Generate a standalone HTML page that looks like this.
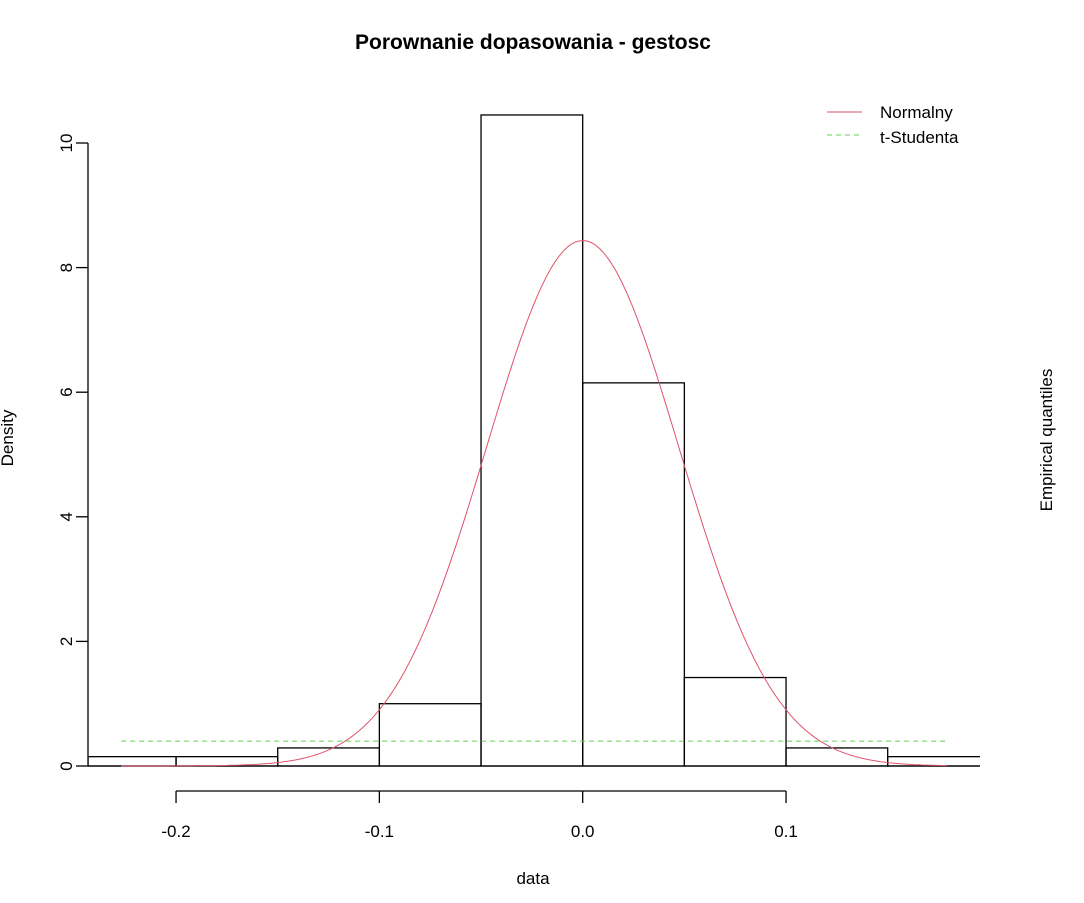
<!DOCTYPE html>
<html><head><meta charset="utf-8"><style>
body{margin:0;background:#fff}
svg text{font-family:"Liberation Sans",Arial,sans-serif;fill:#000}
</style></head><body>
<svg width="1084" height="898">
<defs><clipPath id="pc"><rect x="88" y="0" width="892" height="898"/></clipPath></defs>
<text x="533" y="49" font-size="21" font-weight="bold" text-anchor="middle">Porownanie dopasowania - gestosc</text>
<g id="bars" clip-path="url(#pc)"></g>
<line x1="88" y1="766" x2="980" y2="766" stroke="#000" stroke-width="1.3"/>
<g id="curves" clip-path="url(#pc)"></g>
<g id="axes"></g>
<text x="533" y="884" font-size="17" text-anchor="middle">data</text>
<text transform="translate(13,438) rotate(-90)" font-size="17" text-anchor="middle">Density</text>
<text transform="translate(1052,440) rotate(-90)" font-size="17" text-anchor="middle">Empirical quantiles</text>
<g>
<line x1="827" y1="112" x2="862" y2="112" stroke="#DF536B" stroke-width="1"/>
<text x="880" y="118" font-size="17">Normalny</text>
<line x1="827" y1="135" x2="862" y2="135" stroke="#61D04F" stroke-width="1" stroke-dasharray="5,4"/>
<text x="880" y="143" font-size="17">t-Studenta</text>
</g>
</svg>
<script>
const breaks=[-0.2433,-0.2,-0.15,-0.1,-0.05,0,0.05,0.1,0.15,0.2];
const densities=[0.15,0.15,0.29,1.0,10.45,6.15,1.42,0.29,0.15];
const xTicks=[-0.2,-0.1,0.0,0.1];
const xTickLabels=["-0.2","-0.1","0.0","0.1"];
const yTicks=[0,2,4,6,8,10];
const normMean=0.0;
const normSd=0.0473;
const tLevel=0.4;
const curveRange=[-0.227,0.179];
const X=v=>582.7+(v)*2033.3;
const Y=v=>766-v*62.3;
const NS="http://www.w3.org/2000/svg";
function mk(tag,attrs,parent){const e=document.createElementNS(NS,tag);for(const k in attrs)e.setAttribute(k,attrs[k]);parent.appendChild(e);return e;}
const bars=document.getElementById('bars');
densities.forEach((d,i)=>{
 const r=mk('rect',{x:X(breaks[i]),y:Y(d),width:X(breaks[i+1])-X(breaks[i]),height:Y(0)-Y(d),fill:'none',stroke:'#000','stroke-width':1.3},bars);
 
 
});
const cv=document.getElementById('curves');
let pts=[];
for(let i=0;i<=300;i++){const x=curveRange[0]+(curveRange[1]-curveRange[0])*i/300;
 const y=Math.exp(-0.5*((x-normMean)/normSd)**2)/(normSd*Math.sqrt(2*Math.PI));pts.push(X(x).toFixed(1)+','+Y(y).toFixed(1));}
const pl=mk('polyline',{points:pts.join(' '),fill:'none',stroke:'#DF536B','stroke-width':1},cv);


const tl=mk('line',{x1:X(curveRange[0]),x2:X(curveRange[1]),y1:Y(tLevel),y2:Y(tLevel),stroke:'#61D04F','stroke-width':1,'stroke-dasharray':'5,4'},cv);


const ax=document.getElementById('axes');
mk('line',{x1:X(xTicks[0]),x2:X(xTicks[xTicks.length-1]),y1:791,y2:791,stroke:'#000','stroke-width':1.3},ax);
xTicks.forEach((t,i)=>{mk('line',{x1:X(t),x2:X(t),y1:791,y2:803,stroke:'#000','stroke-width':1.3},ax);
 const tx=mk('text',{x:X(t),y:837,'font-size':17,'text-anchor':'middle'},ax);tx.textContent=xTickLabels[i];
 
 });
mk('line',{x1:88,x2:88,y1:Y(yTicks[0]),y2:Y(yTicks[yTicks.length-1]),stroke:'#000','stroke-width':1.3},ax);
yTicks.forEach(t=>{mk('line',{x1:76,x2:88,y1:Y(t),y2:Y(t),stroke:'#000','stroke-width':1.3},ax);
 const tx=mk('text',{transform:`translate(72,${Y(t)}) rotate(-90)`,'font-size':17,'text-anchor':'middle'},ax);tx.textContent=String(t);
 
 });
</script>
</body></html>
